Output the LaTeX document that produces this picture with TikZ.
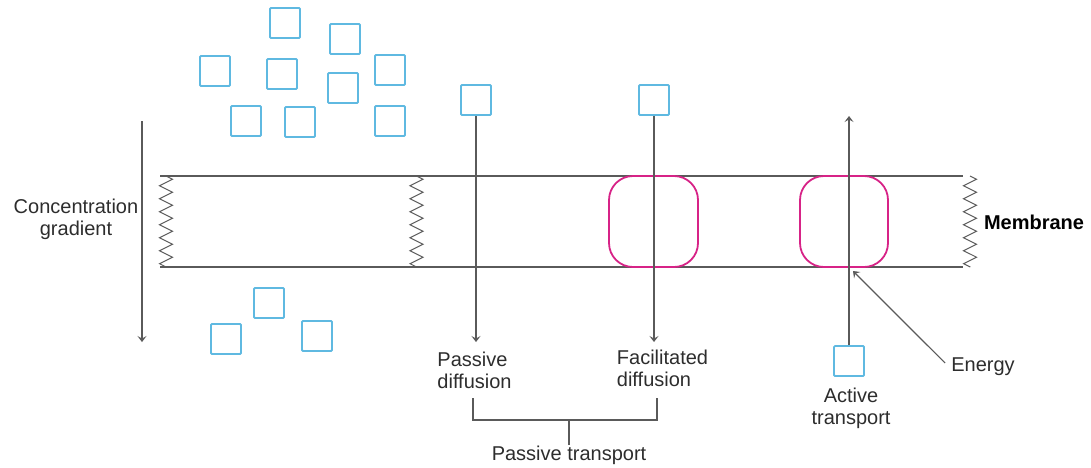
\documentclass[tikz,border=0pt]{standalone}
\usepackage{fontspec}
\setmainfont{Liberation Sans}
\usetikzlibrary{arrows.meta,decorations.pathmorphing,positioning}

\definecolor{molblue}{RGB}{95,185,225}
\definecolor{carrierpink}{RGB}{215,35,135}
\definecolor{linegray}{RGB}{90,90,90}
\definecolor{textgray}{RGB}{45,45,45}

\tikzset{
  molecule/.style={draw=molblue,line width=1.8pt,minimum size=30pt,inner sep=0pt,rounded corners=1pt},
  carrier/.style={draw=carrierpink,line width=1.8pt,rounded corners=24pt},
  memline/.style={linegray,line width=1.3pt},
  zig/.style={linegray,line width=1pt,decorate,
    decoration={zigzag,segment length=12.99pt,amplitude=6.5pt}},
  flow/.style={linegray,line width=1.2pt,-{Stealth[length=6pt,width=9pt,inset=2.5pt]}},
  lbl/.style={font=\fontsize{20}{22}\selectfont,text=textgray,inner sep=0pt}
}

\begin{document}
\begin{tikzpicture}[x=1pt,y=-1pt]
  \useasboundingbox (0,0) rectangle (1091,467);

  % Molecules au-dessus de la membrane
  \node[molecule] (m1) at (285,23) {};
  \node[molecule] (m2) at (345,39) {};
  \node[molecule] (m3) at (215,71) {};
  \node[molecule] (m4) at (282,74) {};
  \node[molecule] (m5) at (390,70) {};
  \node[molecule] (m6) at (343,88) {};
  \node[molecule] (m7) at (246,121) {};
  \node[molecule] (m8) at (300,122) {};
  \node[molecule] (m9) at (390,121) {};

  % Molecules au-dessous
  \node[molecule] (b1) at (269,303) {};
  \node[molecule] (b2) at (226,339) {};
  \node[molecule] (b3) at (317,336) {};

  % Molecules qui traversent
  \node[molecule] (pd) at (476,100) {};
  \node[molecule] (fd) at (654,100) {};
  \node[molecule] (at) at (849,361) {};

  % Membrane
  \draw[memline] (160,176) -- (963,176);
  \draw[memline] (160,267) -- (963,267);
  \draw[zig] (166,176) -- (166,267);
  \draw[zig] (416.5,176) -- (416.5,267);
  \draw[zig] (970,176) -- (970,267);

  % Transporteurs
  \draw[carrier] (609,176) rectangle (698,267);
  \draw[carrier] (800,176) rectangle (888,267);

  % Points des fleches
  \coordinate (cgtop) at (142,121);
  \coordinate (cgtip) at (142,342);
  \coordinate (pdtip) at (476,342);
  \coordinate (fdtip) at (654,342);
  \coordinate (attip) at (849,116);
  \coordinate (entip) at (853,271);

  % Fleches
  \draw[flow] (cgtop) -- (cgtip);
  \draw[flow] (pd.south) -- (pdtip);
  \draw[flow] (fd.south) -- (fdtip);
  \draw[flow] (at.north) -- (attip);

  % Etiquettes
  \node[lbl,align=center] (cg) at (76,219) {Concentration\\gradient};
  \node[lbl,font=\fontsize{20}{22}\selectfont\bfseries,text=black] (mem) at (1034,222) {Membrane};
  \node[lbl,align=left] (pdl) at (474.5,370) {Passive\\diffusion};
  \node[lbl,align=left] (fdl) at (662.5,368) {Facilitated\\diffusion};
  \node[lbl,align=center] (atl) at (851,408) {Active\\transport};
  \node[lbl] (en) at (983,367) {Energy};
  \node[lbl] (pt) at (569,455) {Passive transport};

  % Energie
  \draw[flow] (en.west) ++(-6,-4) coordinate (enfoot) -- (entip);

  % Accolade
  \coordinate (brl) at (473,398);
  \coordinate (brr) at (657,398);
  \coordinate (brm) at (569,420);
  \draw[memline,line width=1.2pt] (brl) -- (brl |- brm) -- (brr |- brm) -- (brr);
  \draw[memline,line width=1.2pt] (brm) -- (pt.north);
\end{tikzpicture}
\end{document}
